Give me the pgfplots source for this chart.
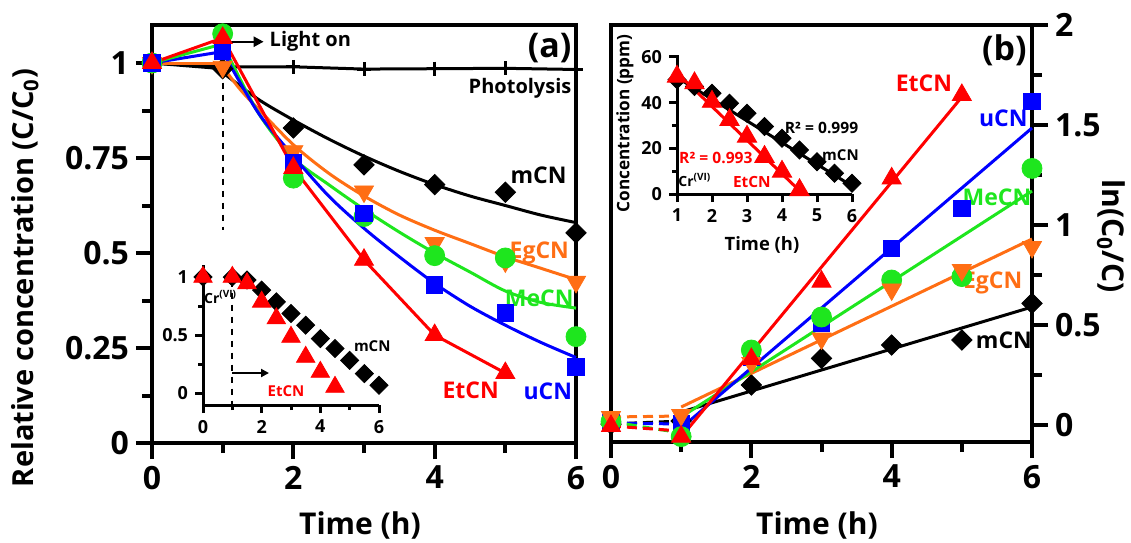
\documentclass[border=0pt]{standalone}
\usepackage{fontspec}
\setmainfont{Open Sans}
\usepackage{pgfplots}
\pgfplotsset{compat=1.18}
\usetikzlibrary{arrows.meta}
\definecolor{cgreen}{RGB}{30,230,30}
\definecolor{corange}{RGB}{255,110,20}
\definecolor{cred}{RGB}{255,0,0}
\definecolor{cblue}{RGB}{0,0,255}
\pgfplotsset{
  mainax/.style={scale only axis, clip=false, tick align=outside,
    major tick length=8pt, minor tick length=5pt,
    axis line style={line width=2pt},
    major tick style={line width=2pt, black}, minor tick style={line width=2pt, black},
    tick label style={font=\bfseries\fontsize{16}{16}\selectfont},
    /pgf/number format/assume math mode=true},
  insetax/.style={scale only axis, clip=false,
    axis x line*=bottom, axis y line*=left, tick align=outside,
    major tick length=4pt, minor tick length=2.5pt,
    axis line style={line width=1.5pt},
    major tick style={line width=1.5pt, black}, minor tick style={line width=1.5pt, black},
    tick label style={font=\bfseries\fontsize{9}{9}\selectfont},
    /pgf/number format/assume math mode=true},
  dia/.style={only marks, mark=square*, mark size=3.6pt, mark options={rotate=45, fill=black, draw=black}},
  sq/.style={only marks, mark=square*, mark size=4.1pt, mark options={fill=cblue, draw=cblue}},
  circ/.style={only marks, mark=*, mark size=5pt, mark options={fill=cgreen, draw=cgreen}},
  tri/.style={only marks, mark=triangle*, mark size=5.5pt, mark options={fill=cred, draw=cred}},
  dtri/.style={only marks, mark=triangle*, mark size=5.5pt, mark options={rotate=180, fill=corange, draw=corange}},
  ln/.style={line width=1.5pt, no marks},
}
\begin{document}
\begin{tikzpicture}
\useasboundingbox (0,0) rectangle (565.5pt,-271pt);
% ---------------- panel (a) ----------------
\begin{axis}[mainax, at={(76pt,-221.5pt)}, anchor=south west,
  width=212pt, height=209pt, xmin=0, xmax=6, ymin=0, ymax=1.1,
  tick pos=left,
  xtick={0,2,4,6}, minor xtick={1,3,5},
  ytick={0,0.25,0.5,0.75,1}, yticklabels={0,0.25,0.5,0.75,1},
  minor ytick={0.125,0.375,0.625,0.875}]
% photolysis
\addplot[black, line width=1.5pt, mark=+, mark size=3.5pt, mark options={line width=1.5pt}]
  coordinates {(0,1.0)(1,0.99)(2,0.99)(3,0.984)(4,0.985)(5,0.986)(6,0.983)};
% dark connectors
\addplot[ln, black] coordinates {(0,1.0)(1,0.985)};
\addplot[ln, corange] coordinates {(0,1.0)(1,1.0)};
\addplot[ln, cblue] coordinates {(0,1.0)(1,1.03)};
\addplot[ln, cgreen] coordinates {(0,1.0)(1,1.05)};
\addplot[ln, cred] coordinates {(0,1.0)(1,1.066)};
% fits
\addplot[ln, black, smooth] coordinates {(1,0.975)(1.5,0.905)(2,0.85)(2.5,0.80)(3,0.755)(3.5,0.715)(4,0.68)(4.5,0.65)(5,0.625)(5.5,0.60)(6,0.58)};
\addplot[ln, corange, smooth] coordinates {(1,0.99)(1.25,0.93)(1.5,0.88)(2,0.785)(2.5,0.71)(3,0.65)(3.5,0.60)(4,0.56)(4.5,0.525)(5,0.49)(5.5,0.46)(6,0.43)};
\addplot[ln, cgreen, smooth] coordinates {(1,1.05)(1.5,0.87)(2,0.75)(2.5,0.68)(3,0.615)(3.5,0.555)(4,0.50)(4.5,0.45)(5,0.40)(5.5,0.37)(6,0.355)};
\addplot[ln, cblue, smooth] coordinates {(1,1.03)(1.5,0.87)(2,0.755)(2.5,0.65)(3,0.565)(3.5,0.49)(4,0.42)(4.5,0.36)(5,0.31)(5.5,0.265)(6,0.225)};
\addplot[ln, cred] coordinates {(1,1.066)(2,0.724)(3,0.482)(4,0.284)(5,0.184)};
% markers
\addplot[dia] coordinates {(0,1.0)(1,0.985)(2,0.829)(3,0.732)(4,0.68)(5,0.66)(6,0.553)};
\addplot[dtri] coordinates {(0,1.0)(1,0.99)(2,0.768)(3,0.662)(4,0.526)(5,0.478)(6,0.424)};
\addplot[circ] coordinates {(0,1.0)(1,1.077)(2,0.697)(3,0.596)(4,0.493)(5,0.487)(6,0.28)};
\addplot[sq] coordinates {(0,1.0)(1,1.03)(2,0.737)(3,0.605)(4,0.416)(5,0.342)(6,0.2)};
\addplot[tri] coordinates {(0,1.0)(1,1.066)(2,0.724)(3,0.482)(4,0.284)(5,0.184)};
% annotations
\draw[black, dashed, line width=1pt] (axis cs:1,0.98) -- (axis cs:1,0.56);
\draw[black, line width=1.2pt, -{Triangle[length=5pt,width=5pt]}] (axis cs:1,1.056) -- (axis cs:1.58,1.056);
\node[anchor=west, font=\bfseries\fontsize{10}{10}\selectfont, inner sep=0pt] at (axis cs:1.66,1.056) {Light on};
\node[anchor=east, font=\bfseries\fontsize{10}{10}\selectfont, inner sep=0pt] at (axis cs:5.94,0.934) {Photolysis};
\node[anchor=east, font=\bfseries\fontsize{17}{17}\selectfont, inner sep=0pt] at (axis cs:5.94,1.04) {(a)};
\node[font=\bfseries\fontsize{11.5}{11.5}\selectfont] at (axis cs:5.47,0.705) {mCN};
\node[font=\bfseries\fontsize{11.5}{11.5}\selectfont, text=corange] at (axis cs:5.48,0.50) {EgCN};
\node[font=\bfseries\fontsize{11.5}{11.5}\selectfont, text=cgreen] at (axis cs:5.48,0.38) {MeCN};
\node[font=\bfseries\fontsize{11.5}{11.5}\selectfont, text=cred] at (axis cs:4.51,0.14) {EtCN};
\node[font=\bfseries\fontsize{11.5}{11.5}\selectfont, text=cblue] at (axis cs:5.6,0.135) {uCN};
\end{axis}
% ---------------- inset (a) ----------------
\begin{axis}[insetax, at={(101.5pt,-202.5pt)}, anchor=south west,
  width=88pt, height=69.8pt, xmin=0, xmax=6, ymin=-0.1, ymax=1.1,
  xtick={0,2,4,6}, minor xtick={1,3,5},
  ytick={0,0.5,1}, yticklabels={0,0.5,1}, minor ytick={0.25,0.75}]
\addplot[only marks, mark=square*, mark size=3.2pt, mark options={rotate=45, fill=black, draw=black}]
  coordinates {(0,1.0)(1,1.0)(1.5,0.974)(2,0.888)(2.5,0.787)(3,0.687)(3.5,0.586)(4,0.471)(4.5,0.385)(5,0.284)(5.5,0.17)(6,0.069)};
\addplot[only marks, mark=triangle*, mark size=5.3pt, mark options={fill=cred, draw=cred}]
  coordinates {(0,1.0)(1,1.0)(1.5,0.946)(2,0.787)(2.5,0.644)(3,0.485)(3.5,0.313)(4,0.184)(4.5,0.055)};
\draw[black, dashed, line width=1pt] (axis cs:1,0.97) -- (axis cs:1,-0.1);
\draw[black, line width=1pt, -{Triangle[length=4pt,width=4pt]}] (axis cs:1,0.175) -- (axis cs:2.25,0.175);
\node[font=\bfseries\fontsize{7}{7}\selectfont, inner sep=0pt] at (axis cs:0.6,0.83) {Cr\textsuperscript{(VI)}};
\node[font=\bfseries\fontsize{7.5}{7.5}\selectfont] at (axis cs:5.77,0.41) {mCN};
\node[font=\bfseries\fontsize{7.5}{7.5}\selectfont, text=cred] at (axis cs:2.83,0.02) {EtCN};
\end{axis}
% ---------------- panel (b) ----------------
\begin{axis}[mainax, at={(305.5pt,-221pt)}, anchor=south west,
  width=210.5pt, height=208.5pt, xmin=0, xmax=6, ymin=-0.085, ymax=2,
  xtick pos=left, ytick pos=right, yticklabel pos=right,
  xtick={0,2,4,6}, minor xtick={1,3,5},
  ytick={0,0.5,1,1.5,2}, yticklabels={0,0.5,1,1.5,2},
  minor ytick={0.25,0.75,1.25,1.75}]
% dark dashed
\addplot[ln, black, dashed, dash pattern=on 5pt off 3pt] coordinates {(0,0.005)(1,0.02)};
\addplot[ln, cblue, dashed, dash pattern=on 5pt off 3pt] coordinates {(0,0.01)(1,0.005)};
\addplot[ln, cgreen, dashed, dash pattern=on 5pt off 3pt] coordinates {(0,0.017)(1,-0.04)};
\addplot[ln, corange, dashed, dash pattern=on 5pt off 3pt] coordinates {(0,0.04)(1,0.045)};
\addplot[ln, cred, dashed, dash pattern=on 5pt off 3pt] coordinates {(0,-0.005)(1,-0.03)};
% fits
\addplot[ln, black] coordinates {(1,0.065)(6,0.59)};
\addplot[ln, corange] coordinates {(1,0.09)(6,0.93)};
\addplot[ln, cgreen] coordinates {(1,0.04)(6,1.17)};
\addplot[ln, cblue] coordinates {(1,-0.015)(6,1.485)};
\addplot[ln, cred] coordinates {(1,-0.06)(5,1.64)};
% markers
\addplot[dia] coordinates {(0,0.005)(1,0.02)(2,0.2)(3,0.333)(4,0.4)(5,0.425)(6,0.608)};
\addplot[sq] coordinates {(0,0.01)(1,0.005)(2,0.34)(3,0.51)(4,0.883)(5,1.083)(6,1.617)};
\addplot[circ] coordinates {(0,0.017)(1,-0.058)(2,0.375)(3,0.54)(4,0.725)(5,0.742)(6,1.283)};
\addplot[dtri] coordinates {(0,0.04)(1,0.05)(2,0.31)(3,0.433)(4,0.678)(5,0.775)(6,0.89)};
\addplot[tri] coordinates {(0,-0.005)(1,-0.058)(2,0.33)(3,0.717)(4,1.233)(5,1.65)};
% labels
\node[anchor=east, font=\bfseries\fontsize{17}{17}\selectfont, inner sep=0pt] at (axis cs:5.93,1.875) {(b)};
\node[font=\bfseries\fontsize{11.5}{11.5}\selectfont, text=cred] at (axis cs:4.46,1.71) {EtCN};
\node[font=\bfseries\fontsize{11.5}{11.5}\selectfont, text=cblue] at (axis cs:5.59,1.535) {uCN};
\node[font=\bfseries\fontsize{11.5}{11.5}\selectfont, text=cgreen] at (axis cs:5.5,1.14) {MeCN};
\node[font=\bfseries\fontsize{11.5}{11.5}\selectfont, text=corange] at (axis cs:5.44,0.71) {EgCN};
\node[font=\bfseries\fontsize{11.5}{11.5}\selectfont] at (axis cs:5.6,0.425) {mCN};
\end{axis}
% ---------------- inset (b) ----------------
\begin{axis}[insetax, at={(338.5pt,-97pt)}, anchor=south west,
  width=87.5pt, height=69.7pt, xmin=1, xmax=6, ymin=0, ymax=61,
  xtick={1,2,3,4,5,6},
  ytick={0,20,40,60}, minor ytick={10,30,50}]
\addplot[ln, black] coordinates {(1,51)(6,3.5)};
\addplot[ln, cred] coordinates {(1,53)(4.6,0)};
\addplot[only marks, mark=square*, mark size=3.2pt, mark options={rotate=45, fill=black, draw=black}]
  coordinates {(1,50)(1.5,47)(2,44.1)(2.5,39.7)(3,35.3)(3.5,29.5)(4,24.4)(4.5,19.3)(5,14.1)(5.5,9.1)(6,4.7)};
\addplot[only marks, mark=triangle*, mark size=5.6pt, mark options={fill=cred, draw=cred}]
  coordinates {(1,51.4)(1.5,48.5)(2,40.4)(2.5,32.4)(3,25.1)(3.5,16.3)(4,9.8)(4.5,1.75)};
\node[font=\bfseries\fontsize{7.8}{7.8}\selectfont] at (axis cs:5.13,28.9) {R² = 0.999};
\node[font=\bfseries\fontsize{7.5}{7.5}\selectfont] at (axis cs:5.67,17) {mCN};
\node[font=\bfseries\fontsize{7.8}{7.8}\selectfont, text=cred] at (axis cs:2.11,15.7) {R² = 0.993};
\node[font=\bfseries\fontsize{7}{7}\selectfont] at (axis cs:1.51,6) {Cr\textsuperscript{(VI)}};
\node[font=\bfseries\fontsize{7.7}{7.7}\selectfont, text=cred] at (axis cs:3.14,5.4) {EtCN};
\end{axis}
% ---------------- axis titles ----------------
\node[rotate=90, font=\bfseries\fontsize{14.5}{14.5}\selectfont] at (12.5pt,-139pt) {Relative concentration (C/C\textsubscript{0})};
\node[font=\bfseries\fontsize{15}{15}\selectfont] at (180pt,-262.5pt) {Time (h)};
\node[font=\bfseries\fontsize{15}{15}\selectfont] at (408.5pt,-262.5pt) {Time (h)};
\node[rotate=-90, font=\bfseries\fontsize{15}{15}\selectfont] at (555.5pt,-118pt) {ln(C\textsubscript{0}/C)};
\node[rotate=90, font=\bfseries\fontsize{8.6}{8.6}\selectfont] at (312.5pt,-61.75pt) {Concentration (ppm)};
\node[font=\bfseries\fontsize{9.2}{9.2}\selectfont] at (381pt,-122.5pt) {Time (h)};
\end{tikzpicture}
\end{document}
